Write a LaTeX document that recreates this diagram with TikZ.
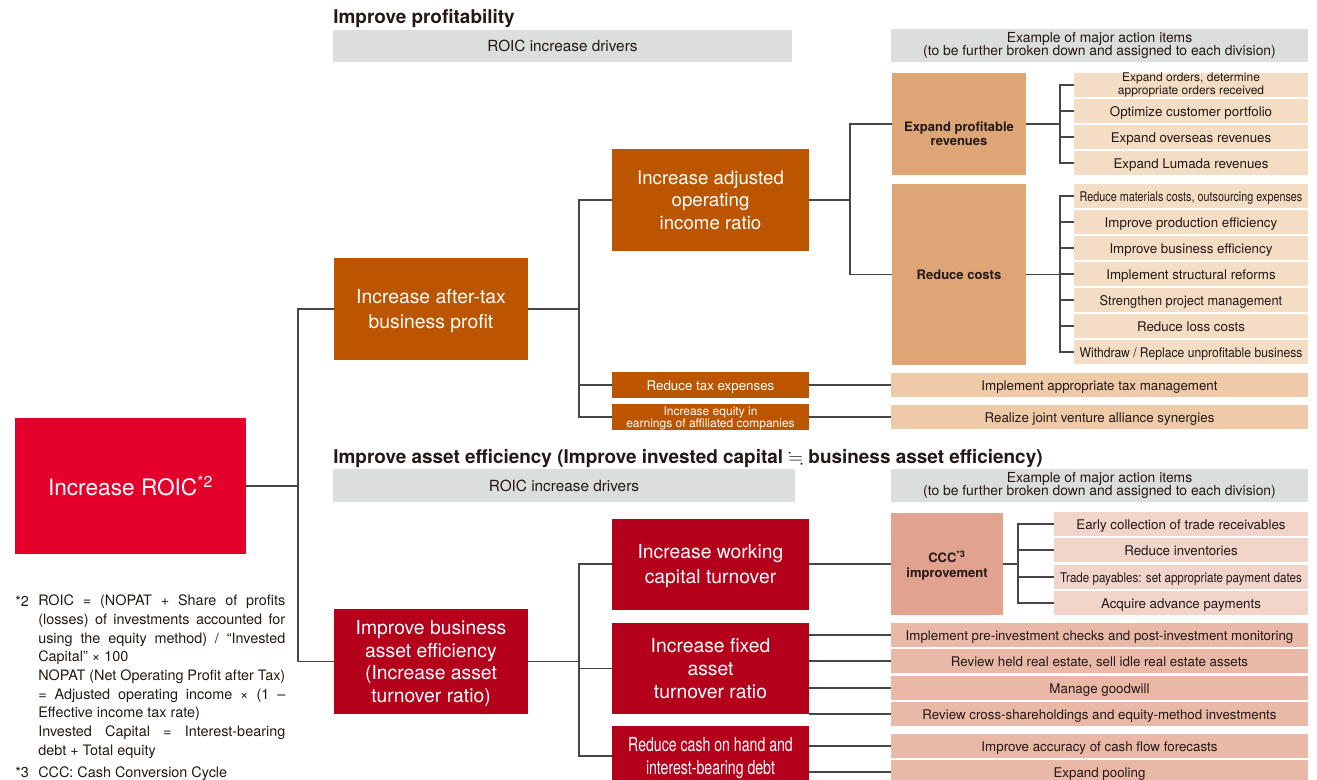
\documentclass[tikz,border=0pt]{standalone}
\usepackage{amssymb}
\usepackage{graphicx}
\usepackage{fontspec}
\setmainfont{TeX Gyre Heros}

\newdimen\pxu \pxu=0.75pt
\newcommand\fs[2]{\fontsize{#1}{#2}\selectfont}
\newcommand\squeeze[2]{\scalebox{#1}[1]{#2}}
\newcommand\jline[1]{\makebox[247\pxu][s]{#1}}

\definecolor{roicred}{RGB}{228,0,43}
\definecolor{dkorange}{RGB}{188,85,0}
\definecolor{ltorange}{RGB}{222,166,119}
\definecolor{leaforange}{RGB}{243,221,197}
\definecolor{taxfill}{RGB}{238,202,168}
\definecolor{dkred}{RGB}{181,0,28}
\definecolor{cccfill}{RGB}{225,163,144}
\definecolor{cccleaf}{RGB}{241,212,202}
\definecolor{fatleaf}{RGB}{233,184,167}
\definecolor{barfill}{RGB}{220,221,221}
\definecolor{ink}{RGB}{35,24,21}
\definecolor{linegray}{RGB}{70,70,70}

\tikzset{
  box/.style 2 args={rectangle, inner sep=0pt, align=center, minimum width=#1\pxu, minimum height=#2\pxu},
  bar/.style 2 args={box={#1}{#2}, fill=barfill, text=ink, font=\fs{10.4}{10}},
  oneline/.style={text height=8.2pt, text depth=0pt},
  tier/.style={text=white, text depth=0pt, font=\fs{14.5}{19}},
  third/.style={text=ink, font=\bfseries\fs{9.75}{10.75}},
  leaf/.style={box={234}{24}, oneline, fill=leaforange, text=ink, font=\fs{10}{11}},
  wide/.style={box={417}{24}, oneline, text=ink, font=\fs{10}{11}},
  cleaf/.style={box={254}{24}, oneline, fill=cccleaf, text=ink, font=\fs{10}{11}},
  head/.style={inner sep=0pt, anchor=base west, text=ink, font=\bfseries\fs{14.2}{16}},
  note/.style={inner sep=0pt, anchor=base west, text=ink, align=left, font=\fs{10.8}{14}},
  link/.style={draw=linegray, line width=1pt}
}

\begin{document}
\begin{tikzpicture}[x=0.75pt, y=-0.75pt]
\useasboundingbox (0,0) rectangle (1317,780);
\clip (0,0) rectangle (1317,780);

\node[box={231}{136}, fill=roicred, text=white, font=\fs{17}{20}] (roic) at (130.5,486) {Increase ROIC\textsuperscript{*2}};

\node[head] (hd1) at (333,24) {Improve profitability};
\node[head] (hd2) at (333,463) {Improve asset efficiency (Improve invested capital $\fallingdotseq$ business asset efficiency)};

\node[bar={459}{32}, font=\fs{11.5}{13}] (drv1) at (562.5,46) {ROIC increase drivers};
\node[bar={417}{33}] (act1) at (1099.5,45.5) {Example of major action items\\(to be further broken down and assigned to each division)};
\node[bar={462}{33}, font=\fs{11.5}{13}] (drv2) at (564,485.5) {ROIC increase drivers};
\node[bar={417}{33}] (act2) at (1099.5,485.5) {Example of major action items\\(to be further broken down and assigned to each division)};

% profitability branch
\node[box={194}{102}, fill=dkorange, tier, font=\fs{14.5}{19.3}] (atp) at (431,309) {Increase after-tax\\business profit};
\node[box={197}{102}, fill=dkorange, tier, font=\fs{14}{16.9}] (aoi) at (710.5,200) {Increase adjusted\\operating\\income ratio};
\node[box={197}{26}, oneline, fill=dkorange, text=white, font=\fs{10}{11}] (tax) at (710.5,385) {Reduce tax expenses};
\node[box={197}{25}, text depth=0pt, fill=dkorange, text=white, font=\fs{9}{9}] (eqa) at (710.5,417) {Increase equity in\\earnings of affiliated companies};

\node[box={134}{102}, fill=ltorange, third] (rev) at (959,124) {\rule{0pt}{22pt}Expand profitable\\revenues};
\node[box={134}{181}, fill=ltorange, third] (cost) at (959,274.5) {Reduce costs};

\node[box={234}{24}, fill=leaforange, text=ink, font=\fs{9}{8.5}] (r1) at (1191,85) {Expand orders, determine\\appropriate orders received};
\node[leaf] (r2) at (1191,111) {Optimize customer portfolio};
\node[leaf] (r3) at (1191,137) {Expand overseas revenues};
\node[leaf] (r4) at (1191,163) {Expand Lumada revenues};

\node[leaf] (c1) at (1191,196) {\squeeze{0.81}{Reduce materials costs, outsourcing expenses}};
\node[leaf] (c2) at (1191,222) {Improve production efficiency};
\node[leaf] (c3) at (1191,248) {Improve business efficiency};
\node[leaf] (c4) at (1191,274) {Implement structural reforms};
\node[leaf] (c5) at (1191,300) {\squeeze{0.96}{Strengthen project management}};
\node[leaf] (c6) at (1191,326) {Reduce loss costs};
\node[leaf] (c7) at (1191,352) {\squeeze{0.91}{Withdraw / Replace unprofitable business}};

\node[wide, fill=taxfill] (tm) at (1099.5,385) {Implement appropriate tax management};
\node[wide, fill=taxfill] (jv) at (1099.5,417) {Realize joint venture alliance synergies};

% asset efficiency branch
\node[box={194}{105}, fill=dkred, tier, font=\fs{14.5}{17}] (bae) at (431,661.5) {Improve business\\asset efficiency\\(Increase asset\\turnover ratio)};
\node[box={197}{91}, fill=dkred, tier, font=\fs{14.5}{18.25}] (wct) at (710.5,564) {Increase working\\capital turnover};
\node[box={197}{91}, fill=dkred, tier, font=\fs{14.5}{17}] (fat) at (710.5,668.5) {Increase fixed\\asset\\turnover ratio};
\node[box={197}{60}, fill=dkred, tier, font=\fs{14.5}{16.75}] (cash) at (710.5,756) {\squeeze{0.73}{Reduce cash on hand and}\\\squeeze{0.73}{interest-bearing debt}};

\node[box={112}{102}, fill=cccfill, third, font=\bfseries\fs{9.75}{11.5}] (ccc) at (947,564) {\rule{0pt}{11pt}CCC\textsuperscript{*3}\\improvement};

\node[cleaf] (k1) at (1181,524) {Early collection of trade receivables};
\node[cleaf] (k2) at (1181,550) {Reduce inventories};
\node[cleaf] (k3) at (1181,577) {\squeeze{0.87}{Trade payables: set appropriate payment dates}};
\node[cleaf] (k4) at (1181,603) {Acquire advance payments};

\node[wide, fill=fatleaf] (f1) at (1099.5,635) {Implement pre-investment checks and post-investment monitoring};
\node[wide, fill=fatleaf] (f2) at (1099.5,661) {Review held real estate, sell idle real estate assets};
\node[wide, fill=fatleaf] (f3) at (1099.5,688) {Manage goodwill};
\node[wide, fill=fatleaf] (f4) at (1099.5,714) {Review cross-shareholdings and equity-method investments};
\node[wide, fill=fatleaf] (p1) at (1099.5,746) {Improve accuracy of cash flow forecasts};
\node[wide, fill=fatleaf] (p2) at (1099.5,772) {Expand pooling};

% footnotes
\node[note] (m2) at (15,606) {*2};
\node[note] (n2) at (38,755) {\jline{ROIC = (NOPAT + Share of profits}\\
\jline{(losses) of investments accounted for}\\
\jline{using the equity method) / “Invested}\\
Capital” × 100\\
\jline{NOPAT (Net Operating Profit after Tax)}\\
\jline{= Adjusted operating income × (1 –}\\
Effective income tax rate)\\
\jline{Invested Capital = Interest-bearing}\\
debt + Total equity};
\node[note] (m3) at (15,777) {*3};
\node[note] (n3) at (38,777) {CCC: Cash Conversion Cycle};

% connectors
\coordinate (j0) at (298,486);
\coordinate (j1) at (579,309);
\coordinate (j2) at (850,200);
\coordinate (j3) at (579,661.5);
\coordinate (b1) at (1060,124);
\coordinate (b2) at (1060,274.5);
\coordinate (b3) at (1018,564);

\draw[link] (roic.east) -- (j0);
\draw[link] (atp.west) -| (j0) |- (bae.west);

\draw[link] (atp.east) -- (j1);
\draw[link] (aoi.west) -| (j1) |- (eqa.west);
\draw[link] (tax.west) -- (tax.west -| j1);
\draw[link] (tax.east) -- (tm.west);
\draw[link] (eqa.east) -- (jv.west);

\draw[link] (aoi.east) -- (j2);
\draw[link] (rev.west) -| (j2) |- (cost.west);

\draw[link] (rev.east) -- (b1);
\draw[link] (r1.west) -| (b1) |- (r4.west);
\foreach \n in {r2,r3}
  \draw[link] (\n.west) -- (\n.west -| b1);

\draw[link] (cost.east) -- (b2);
\draw[link] (c1.west) -| (b2) |- (c7.west);
\foreach \n in {c2,c3,c4,c5,c6}
  \draw[link] (\n.west) -- (\n.west -| b2);

\draw[link] (bae.east) -- (j3);
\draw[link] (wct.west) -| (j3) |- (cash.west);
\draw[link] (fat.west) -- (fat.west -| j3);

\draw[link] (wct.east) -- (ccc.west);
\draw[link] (ccc.east) -- (b3);
\draw[link] (k1.west) -| (b3) |- (k4.west);
\foreach \n in {k2,k3}
  \draw[link] (\n.west) -- (\n.west -| b3);

\foreach \n in {f1,f2,f3,f4}
  \draw[link] (\n.west) -- (\n.west -| fat.east);
\foreach \n in {p1,p2}
  \draw[link] (\n.west) -- (\n.west -| cash.east);
\end{tikzpicture}
\end{document}
